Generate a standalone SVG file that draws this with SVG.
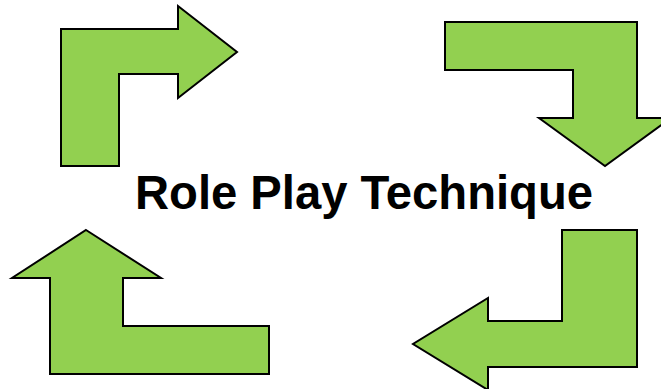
<svg xmlns="http://www.w3.org/2000/svg" width="661" height="389" viewBox="0 0 661 389">
<style>
.arrow{fill:#92D050;stroke:#000;stroke-width:2;stroke-linejoin:miter}
.title{font-family:"Liberation Sans",Arial,sans-serif;font-weight:bold;font-size:48px;fill:#000}
</style>
<rect width="661" height="389" fill="#fff"/>
<g id="arrow-top-left"><polygon class="arrow" points="61,29 178,29 178,6 237,52 178,98 178,74 119,74 119,166 61,166"/></g>
<g id="arrow-top-right"><polygon class="arrow" points="445,22 637,22 637,118 671,118 605,166 539,118 573,118 573,70 445,70"/></g>
<g id="arrow-bottom-right"><polygon class="arrow" points="562,230 637,230 637,367 488,367 488,390 413,344 488,298 488,321 562,321"/></g>
<g id="arrow-bottom-left"><polygon class="arrow" points="86,230 161,278 123,278 123,326 269,326 269,374 50,374 50,278 12,278"/></g>
<g id="title"><text class="title" x="135" y="209" textLength="458" lengthAdjust="spacingAndGlyphs">Role Play Technique</text></g>
</svg>
